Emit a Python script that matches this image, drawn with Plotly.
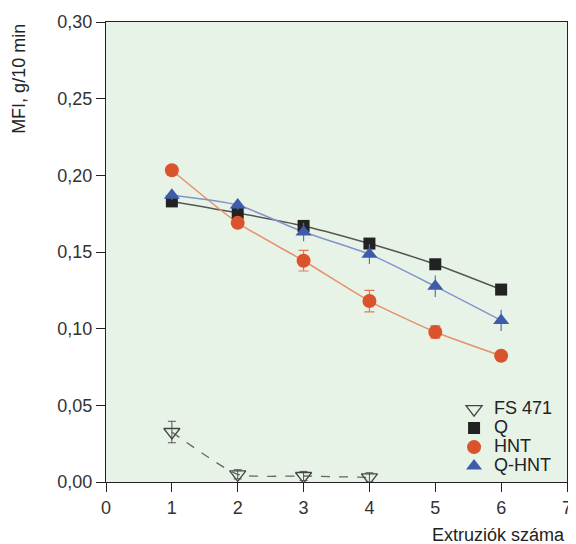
import plotly.graph_objects as go

x_vals = [1, 2, 3, 4, 5, 6]
x_fs = [1, 2, 3, 4]

fs471 = [0.0326, 0.0050, 0.0039, 0.0030]
fs471_err = [0.007, 0.003, 0.003, 0.003]
q_vals = [0.1830, 0.1755, 0.1670, 0.1555, 0.1420, 0.1255]
q_err = [0.002, 0.002, 0.002, 0.002, 0.002, 0.002]
hnt_vals = [0.2033, 0.1690, 0.1443, 0.1180, 0.0978, 0.0823]
hnt_err = [0.002, 0.002, 0.0067, 0.007, 0.004, 0.002]
qhnt_vals = [0.1870, 0.1806, 0.1630, 0.1486, 0.1276, 0.1054]
qhnt_err = [0.003, 0.003, 0.006, 0.0065, 0.007, 0.007]

x_ticks = [0, 1, 2, 3, 4, 5, 6, 7]
y_ticks = [0.00, 0.05, 0.10, 0.15, 0.20, 0.25, 0.30]
y_tick_text = ["0,00", "0,05", "0,10", "0,15", "0,20", "0,25", "0,30"]

FONT = "Liberation Sans, Arial, sans-serif"


def big(s):
    return '<span style="font-size:18px">' + s + '</span>'


fig = go.Figure()

# smooth fitted lines
fig.add_trace(go.Scatter(x=x_fs, y=fs471, mode="lines", line=dict(color="#666666", width=1.3, dash="dash", shape="spline", smoothing=0.5), showlegend=False, hoverinfo="skip"))
fig.add_trace(go.Scatter(x=x_vals, y=q_vals, mode="lines", line=dict(color="#555555", width=1.5, shape="spline", smoothing=0.6), showlegend=False, hoverinfo="skip"))
fig.add_trace(go.Scatter(x=x_vals, y=hnt_vals, mode="lines", line=dict(color="#E8906A", width=1.5, shape="spline", smoothing=0.6), showlegend=False, hoverinfo="skip"))
fig.add_trace(go.Scatter(x=x_vals, y=qhnt_vals, mode="lines", line=dict(color="#8095CC", width=1.5, shape="spline", smoothing=0.6), showlegend=False, hoverinfo="skip"))

# markers with error bars
fig.add_trace(go.Scatter(x=x_fs, y=fs471, mode="markers", name=big("FS 471"),
                         marker=dict(symbol="triangle-down-open", size=14, color="#444444", line=dict(width=1.3)),
                         error_y=dict(type="data", array=fs471_err, color="#555555", thickness=1, width=4)))
fig.add_trace(go.Scatter(x=x_vals, y=q_vals, mode="markers", name=big("Q"),
                         marker=dict(symbol="square", size=12, color="#222222"),
                         error_y=dict(type="data", array=q_err, color="#222222", thickness=1, width=4)))
fig.add_trace(go.Scatter(x=x_vals, y=hnt_vals, mode="markers", name=big("HNT"),
                         marker=dict(symbol="circle", size=14, color="#D9542C"),
                         error_y=dict(type="data", array=hnt_err, color="#E07A50", thickness=1.2, width=5)))
fig.add_trace(go.Scatter(x=x_vals, y=qhnt_vals, mode="markers", name=big("Q-HNT"),
                         marker=dict(symbol="triangle-up", size=14, color="#3F5CAA"),
                         error_y=dict(type="data", array=qhnt_err, color="#5A72B8", thickness=1.2, width=0)))

fig.update_layout(
    width=568, height=536,
    margin=dict(l=98, r=4, t=11, b=62),
    paper_bgcolor="white",
    plot_bgcolor="#E8F3E8",
    font=dict(family=FONT, size=18, color="#333333"),
    showlegend=True,
    legend=dict(x=0.755, y=0.19, xanchor="left", yanchor="top", bgcolor="rgba(0,0,0,0)",
                font=dict(family=FONT, size=12, color="#222222"), itemwidth=30, tracegroupgap=0),
    xaxis=dict(range=[0, 7], tickvals=x_ticks, showgrid=False, zeroline=False,
               showline=True, linecolor="#222222", linewidth=1, mirror=True, ticklabeloverflow="allow",
               ticks="outside", ticklen=9, tickcolor="#222222", tickfont=dict(size=18, color="#333333")),
    yaxis=dict(range=[0, 0.30], tickvals=y_ticks, ticktext=y_tick_text, showgrid=False, zeroline=False,
               showline=True, linecolor="#222222", linewidth=1, mirror=True, ticklabeloverflow="allow",
               ticks="outside", ticklen=9, tickcolor="#222222", tickfont=dict(size=18, color="#333333")),
    annotations=[
        dict(text="MFI, g/10 min", xref="paper", yref="paper", x=-0.189, y=1.0, xanchor="center", yanchor="top",
             textangle=-90, showarrow=False, font=dict(family=FONT, size=18, color="#222222")),
        dict(text="Extruziók száma", xref="paper", yref="paper", x=1.0, y=-0.1145, xanchor="right", yanchor="middle",
             showarrow=False, font=dict(family=FONT, size=18, color="#222222")),
    ],
)

fig.write_html("out.html")
